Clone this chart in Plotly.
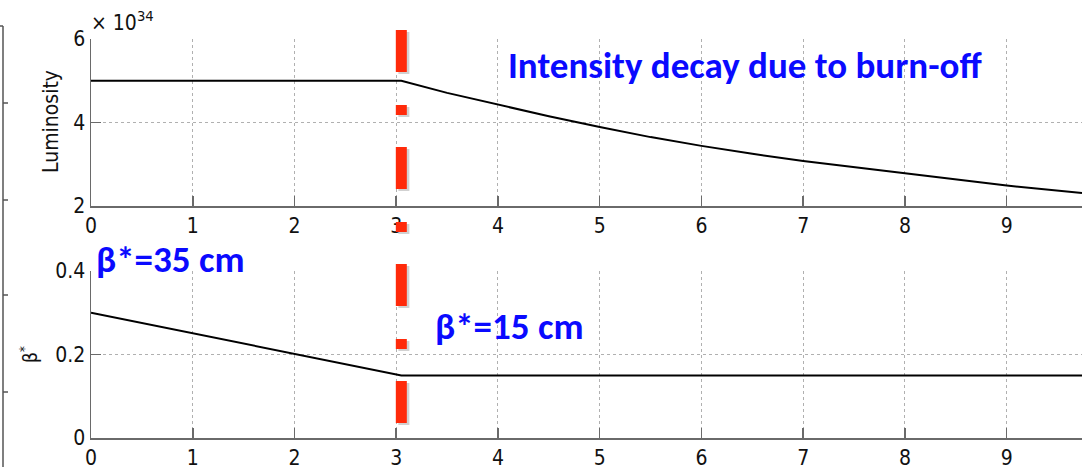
import plotly.graph_objects as go

W, H = 1082, 467

# ---- data ----
lumi_t = [0, 3.05, 3.5, 4, 4.5, 5, 5.5, 6, 6.5, 7, 7.5, 8, 8.5, 9, 9.74]
lumi_v = [5.0, 5.0, 4.71, 4.43, 4.15, 3.89, 3.65, 3.44, 3.25, 3.08, 2.93, 2.78, 2.63, 2.49, 2.31]   # x 1e34
beta_t = [0, 3.05, 9.74]
beta_v = [0.30, 0.15, 0.15]
x_ticks = [0, 1, 2, 3, 4, 5, 6, 7, 8, 9]
lumi_ticks = [2, 4, 6]
beta_ticks = [0, 0.2, 0.4]
t_switch = 3.05
x_max = 9.74

def px(x):
    return x / W

def py(y):
    return 1 - y / H

TICKFONT = dict(family="Liberation Sans Narrow, DejaVu Sans Condensed, Arial Narrow, sans-serif",
                size=21, color="#111")
AXCOL = "#6a6a6a"
GRIDCOL = "#b0b0b0"

fig = go.Figure()
fig.add_trace(go.Scatter(x=lumi_t, y=lumi_v, mode="lines", line=dict(color="black", width=2),
                         xaxis="x", yaxis="y", showlegend=False, hoverinfo="skip"))
fig.add_trace(go.Scatter(x=beta_t, y=beta_v, mode="lines", line=dict(color="black", width=2),
                         xaxis="x2", yaxis="y2", showlegend=False, hoverinfo="skip"))

xdom = [px(91), 1.0]
top_dom = [py(206), py(39)]
bot_dom = [py(438), py(271)]

def xax(anchor, **kw):
    d = dict(domain=xdom, anchor=anchor, range=[0, x_max], tickvals=x_ticks,
             ticks="inside", ticklen=10, tickcolor=AXCOL, tickwidth=1.5,
             showline=True, linecolor=AXCOL, linewidth=1.5,
             showgrid=True, gridcolor=GRIDCOL, griddash="dot", gridwidth=1,
             zeroline=False, tickfont=TICKFONT, fixedrange=True, automargin=False)
    d.update(kw)
    return d

def yax(anchor, dom, rng, tv, tt, **kw):
    d = dict(domain=dom, anchor=anchor, range=rng, tickvals=tv, ticktext=tt,
             ticks="inside", ticklen=10, tickcolor=AXCOL, tickwidth=1.5,
             showline=True, linecolor=AXCOL, linewidth=1.5,
             showgrid=True, gridcolor=GRIDCOL, griddash="dot", gridwidth=1,
             zeroline=False, tickfont=TICKFONT, fixedrange=True, automargin=False)
    d.update(kw)
    return d

fig.update_layout(
    template="none",
    width=W, height=H,
    margin=dict(l=0, r=0, t=0, b=0, pad=0, autoexpand=False),
    paper_bgcolor="white", plot_bgcolor="white",
    xaxis=xax("y"),
    yaxis=yax("x", top_dom, [2, 6], lumi_ticks, [str(v) for v in lumi_ticks]),
    xaxis2=xax("y2"),
    yaxis2=yax("x2", bot_dom, [0, 0.4], beta_ticks, ["0", "0.2", "0.4"]),
    xaxis3=xax("y", overlaying="x", side="top", showticklabels=False, showgrid=False, matches="x"),
    xaxis4=xax("y2", overlaying="x2", side="top", showticklabels=False, showgrid=False, matches="x2"),
)

shapes = []
# red dash-dot marker line (shadow + line)
dash = "42px,33px,10px,32px"
shapes.append(dict(type="line", xref="x", yref="paper", x0=t_switch + 0.025, x1=t_switch + 0.025,
                   y0=py(32), y1=py(427), line=dict(color="rgba(0,0,0,0.18)", width=11, dash=dash), layer="above"))
shapes.append(dict(type="line", xref="x", yref="paper", x0=t_switch, x1=t_switch,
                   y0=py(30), y1=py(425), line=dict(color="#ff2a0a", width=11, dash=dash), layer="above"))
# partial neighbouring axis at far left
shapes.append(dict(type="line", xref="paper", yref="paper", x0=px(3), x1=px(3), y0=py(26), y1=0,
                   line=dict(color="#555", width=1.5)))
shapes.append(dict(type="line", xref="paper", yref="paper", x0=0, x1=px(3), y0=py(26), y1=py(26),
                   line=dict(color="#555", width=1.5)))
for yy in [103, 200, 295, 392]:
    shapes.append(dict(type="line", xref="paper", yref="paper", x0=px(3), x1=px(8), y0=py(yy), y1=py(yy),
                       line=dict(color="#555", width=1.5)))
fig.update_layout(shapes=shapes)

BLUE = "#0a0aff"
ANNFONT = dict(family="Carlito, Lato, Open Sans, sans-serif", size=37, color=BLUE)
ann = [
    dict(text="<b>Intensity decay due to burn-off</b>", x=px(506), y=py(66), xref="paper", yref="paper",
         xanchor="left", yanchor="middle", showarrow=False, font=ANNFONT),
    dict(text="<b>β*=35 cm</b>", x=px(94), y=py(259), xref="paper", yref="paper",
         xanchor="left", yanchor="middle", showarrow=False, font=ANNFONT),
    dict(text="<b>β*=15 cm</b>", x=px(433), y=py(326), xref="paper", yref="paper",
         xanchor="left", yanchor="middle", showarrow=False, font=ANNFONT),
    dict(text="× 10<sup>34</sup>", x=px(89), y=py(5), xref="paper", yref="paper",
         xanchor="left", yanchor="top", showarrow=False,
         font=dict(family="Liberation Sans Narrow, DejaVu Sans Condensed, sans-serif", size=21, color="#111")),
    dict(text="Luminosity", x=px(51), y=py(122), xref="paper", yref="paper", textangle=-90,
         xanchor="center", yanchor="middle", showarrow=False,
         font=dict(family="Liberation Sans Narrow, DejaVu Sans Condensed, sans-serif", size=21, color="#111")),
    dict(text="β<sup>*</sup>", x=px(29), y=py(355), xref="paper", yref="paper", textangle=-90,
         xanchor="center", yanchor="middle", showarrow=False,
         font=dict(family="Liberation Sans Narrow, DejaVu Sans Condensed, sans-serif", size=19, color="#111")),
]
fig.update_layout(annotations=ann)

fig.write_html("out.html", config={"displayModeBar": False, "staticPlot": True},
               post_script="document.body.style.margin='0';document.body.style.overflow='hidden';")
